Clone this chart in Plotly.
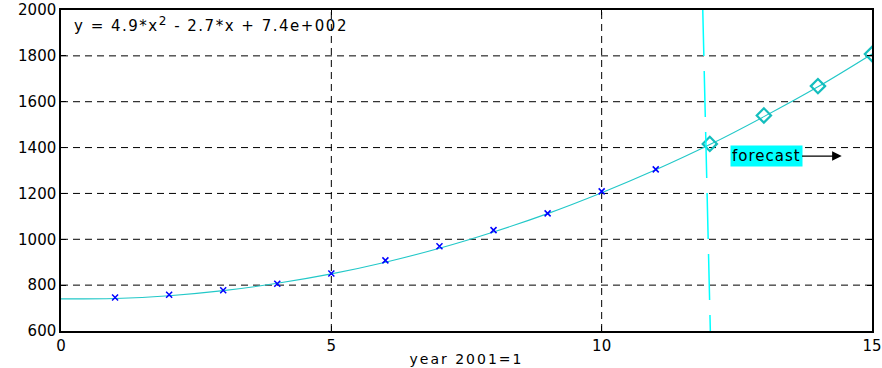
import plotly.graph_objects as go

# observed data (years 1..11)
years = [1, 2, 3, 4, 5, 6, 7, 8, 9, 10, 11]
values = [746, 758, 778, 806, 851, 908, 970, 1040, 1113, 1209, 1305]

# fitted curve values read at integer years 0..15
fit_x = list(range(0, 16))
fit_y = [740, 742, 754, 776, 808, 849, 900, 961, 1032, 1112, 1203, 1303, 1413, 1535, 1665, 1808]

# forecast points
fc_x = [12, 13, 14, 15]
fc_y = [1416, 1540, 1668, 1808]

# vertical forecast divider
div_x = [11.87, 12.01]
div_y = [2000, 600]

xticks = [0, 5, 10, 15]
yticks = [600, 800, 1000, 1200, 1400, 1600, 1800, 2000]

FONT = "DejaVu Sans, Arial, sans-serif"

fig = go.Figure()

# grid lines (dashed black)
for xv in xticks[1:-1]:
    fig.add_shape(type="line", x0=xv, x1=xv, y0=600, y1=2000, xref="x", yref="y",
                  line=dict(color="black", width=1, dash="7px,5px"), layer="below")
for yv in yticks[1:-1]:
    fig.add_shape(type="line", x0=0, x1=15, y0=yv, y1=yv, xref="x", yref="y",
                  line=dict(color="black", width=1, dash="7px,5px"), layer="below")

fig.add_trace(go.Scatter(x=fit_x, y=fit_y, mode="lines", line=dict(color="#22C8C8", width=1.1, shape="spline"),
                         hoverinfo="skip", showlegend=False))
fig.add_trace(go.Scatter(x=years, y=values, mode="markers",
                         marker=dict(symbol="x-thin", size=6, line=dict(color="#0000FF", width=1.5)),
                         showlegend=False))
fig.add_trace(go.Scatter(x=fc_x, y=fc_y, mode="markers",
                         marker=dict(symbol="diamond-open", size=11, color="#14BEBE", line=dict(width=2.2)),
                         showlegend=False))
fig.add_trace(go.Scatter(x=div_x, y=div_y, mode="lines",
                         line=dict(color="#00FFFF", width=1.5, dash="46px,15px"),
                         hoverinfo="skip", showlegend=False))

SP = "letter-spacing:1.5px"
fig.add_annotation(x=0.2, y=1935, xref="x", yref="y", xanchor="left", yanchor="middle",
                   text=f"<span style='{SP}'>y = 4.9*x<sup><span style='font-size:12px'>2</span></sup> - 2.7*x + 7.4e+002</span>",
                   showarrow=False,
                   font=dict(family=FONT, size=15, color="black"))
fig.add_annotation(x=14.44, y=1363, xref="x", yref="y", ax=13.04, ay=1363, axref="x", ayref="y",
                   showarrow=True, arrowhead=2, arrowsize=1.6, arrowwidth=1.2, arrowcolor="black",
                   text="<span style='letter-spacing:1px'>forecast</span>", bgcolor="#00FFFF", borderpad=1, standoff=0,
                   font=dict(family=FONT, size=15, color="black"))

fig.update_xaxes(range=[0, 15], tickvals=xticks, ticks="inside", ticklen=5, tickcolor="black",
                 showgrid=False, zeroline=False, showline=True, linecolor="black", linewidth=1.5, mirror="allticks",
                 automargin=False,
                 tickfont=dict(family=FONT, size=15, color="black"),
                 title=dict(text="<span style='letter-spacing:2px'>year 2001=1</span>",
                            font=dict(family=FONT, size=14, color="black"), standoff=0))
fig.update_yaxes(range=[600, 2000], tickvals=yticks, ticks="inside", ticklen=5, tickcolor="black",
                 showgrid=False, zeroline=False, showline=True, linecolor="black", linewidth=1.5, mirror="allticks",
                 automargin=False,
                 tickfont=dict(family=FONT, size=15, color="black"))

fig.update_layout(width=882, height=368, margin=dict(l=61, r=10, t=10, b=37),
                  plot_bgcolor="white", paper_bgcolor="white", showlegend=False)

fig.write_html("out.html")
